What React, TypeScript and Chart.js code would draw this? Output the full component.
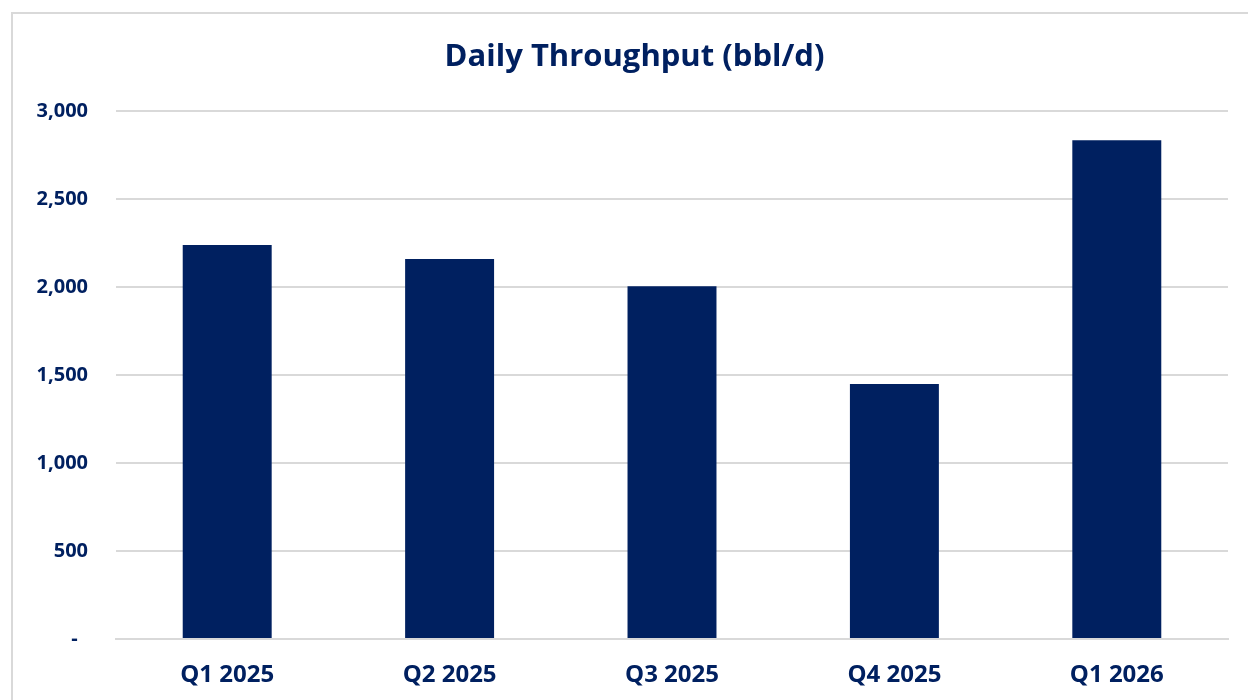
import React, { useEffect, useRef } from "react";
import { Chart, registerables } from "chart.js";

Chart.register(...registerables);

const categories = ["Q1 2025", "Q2 2025", "Q3 2025", "Q4 2025", "Q1 2026"];
const throughput = [2240, 2160, 2005, 1450, 2835];
const yTicks = [0, 500, 1000, 1500, 2000, 2500, 3000];
const titleText = "Daily Throughput (bbl/d)";

const NAVY = "#002060";
const FONT = "'Open Sans', Lato, sans-serif";

const titleShift = {
  id: "titleShift",
  afterLayout(chart: any) {
    const t = chart.titleBlock;
    if (t) {
      t.left += 28;
      t.width -= 28;
    }
  },
};

export default function App() {
  const ref = useRef<HTMLCanvasElement | null>(null);

  useEffect(() => {
    if (!ref.current) return;
    const chart = new Chart(ref.current, {
      type: "bar",
      data: {
        labels: categories,
        datasets: [
          {
            label: "Daily Throughput",
            data: throughput,
            backgroundColor: NAVY,
            borderWidth: 0,
            categoryPercentage: 1,
            barPercentage: 0.4,
          },
        ],
      },
      plugins: [titleShift],
      options: {
        responsive: false,
        animation: false,
        layout: { padding: { top: 25, right: 29, bottom: 0, left: 0 } },
        plugins: {
          legend: { display: false },
          tooltip: { enabled: false },
          title: {
            display: true,
            text: titleText,
            color: NAVY,
            font: { family: FONT, size: 31, weight: "bold" },
            padding: { top: 0, bottom: 35 },
          },
        },
        scales: {
          x: {
            grid: { display: false, drawTicks: false },
            border: { display: true, color: "#d9d9d9", width: 2 },
            ticks: {
              color: NAVY,
              font: { family: FONT, size: 24, weight: "bold" },
              padding: 22,
            },
            afterFit: (s: any) => {
              s.height = 65;
            },
          },
          y: {
            min: 0,
            max: 3000,
            afterBuildTicks: (s: any) => {
              s.ticks = yTicks.map((v) => ({ value: v }));
            },
            grid: { color: "#d9d9d9", lineWidth: 2, drawTicks: false },
            border: { display: false },
            ticks: {
              color: NAVY,
              font: { family: FONT, size: 20, weight: "bold" },
              padding: 28,
              callback: (v: any) =>
                Number(v) === 0 ? "-  " : Number(v).toLocaleString("en-US"),
            },
            afterFit: (s: any) => {
              s.width = 103;
            },
          },
        },
      },
    });
    return () => chart.destroy();
  }, []);

  return (
    <div
      style={{
        position: "fixed",
        left: 11,
        top: 12,
        width: 1260,
        height: 720,
        border: "2px solid #d9d9d9",
        background: "#fff",
        boxSizing: "border-box",
      }}
    >
      <canvas ref={ref} width={1244} height={690} style={{ display: "block" }} />
    </div>
  );
}
